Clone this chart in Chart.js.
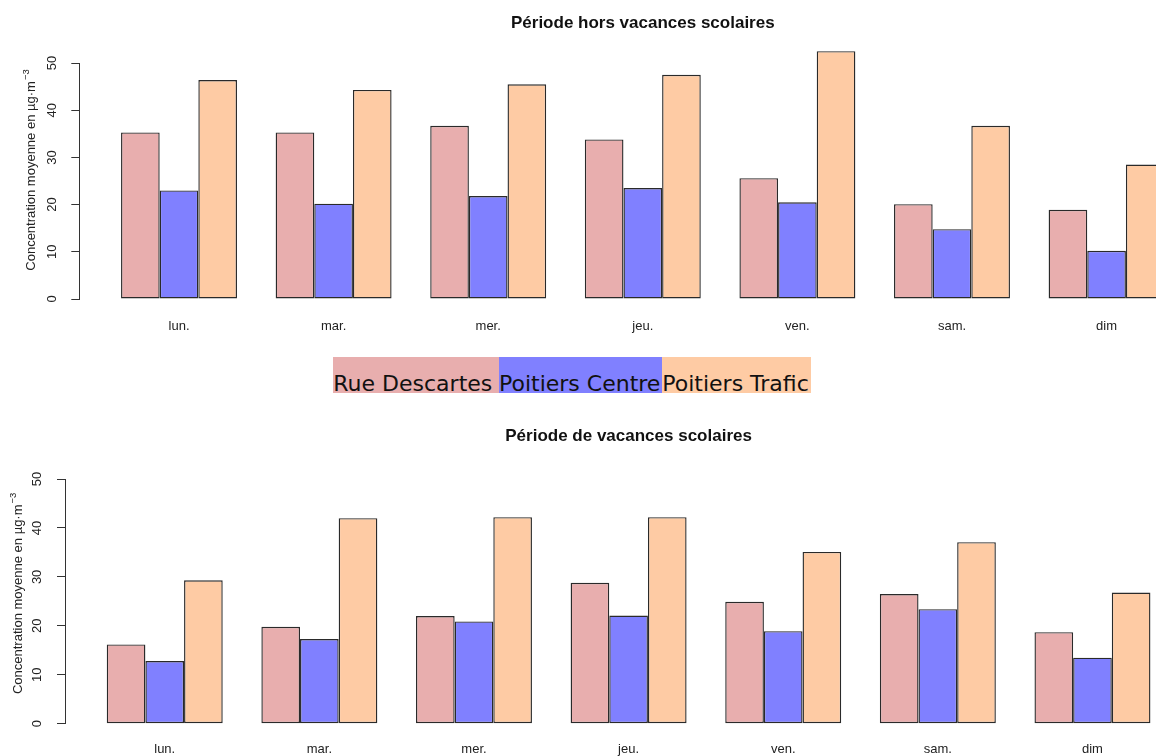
<!DOCTYPE html>
<html lang="fr">
<head>
<meta charset="utf-8">
<title>Concentration moyenne par jour de la semaine</title>
<script src="https://cdn.jsdelivr.net/npm/chart.js@4.4.1/dist/chart.umd.min.js"></script>
<style>
  html, body { margin: 0; padding: 0; background: #fff; overflow: hidden; }
  #page { position: relative; width: 1156px; height: 756px; overflow: hidden; background: #fff; }
  #chartTop { position: absolute; left: 0; top: 0; }
  #chartBottom { position: absolute; left: 0; top: 420px; }
  #legend { position: absolute; left: 333.3px; top: 356.7px; display: flex;
            font-family: "DejaVu Sans", sans-serif; font-size: 22px; color: #111; }
  #legend span { display: block; box-sizing: border-box; height: 36.6px; padding-top: 16.4px;
                 line-height: 22px; white-space: nowrap; overflow: visible; }
  #legend span:nth-child(1) { width: 165.7px; }
  #legend span:nth-child(2) { width: 163.3px; }
  #legend span:nth-child(3) { width: 148.4px; }
</style>
</head>
<body>
<div id="page">
  <canvas id="chartTop" width="1230" height="345"></canvas>
  <div id="legend"></div>
  <canvas id="chartBottom" width="1230" height="336"></canvas>
</div>
<script>
// Days of the week and monitoring sites
const days = ['lun.', 'mar.', 'mer.', 'jeu.', 'ven.', 'sam.', 'dim'];
const seriesNames = ['Rue Descartes', 'Poitiers Centre', 'Poitiers Trafic'];
const seriesColors = ['#E8AEAE', '#8080FF', '#FECBA4'];
const yTickValues = [0, 10, 20, 30, 40, 50];

// Mean concentrations (µg·m-3), outside school holidays
const horsRueDescartes = [35.3, 35.3, 36.7, 33.8, 25.6, 20.1, 18.9];
const horsPoitiersCentre = [23.0, 20.2, 21.8, 23.5, 20.5, 14.8, 10.2];
const horsPoitiersTrafic = [46.4, 44.3, 45.5, 47.5, 52.5, 36.7, 28.5];

// Mean concentrations (µg·m-3), during school holidays
const vacRueDescartes = [16.2, 19.8, 22.0, 28.8, 24.9, 26.5, 18.7];
const vacPoitiersCentre = [12.8, 17.3, 20.9, 22.1, 18.9, 23.4, 13.5];
const vacPoitiersTrafic = [29.3, 42.0, 42.2, 42.2, 35.1, 37.1, 26.8];

const yTitleText = 'Concentration moyenne en µg·m';
const yTitleSup = '−3';

// Rotated y-axis title with a superscript exponent
const yTitlePlugin = {
  id: 'yTitle',
  afterDraw(chart, args, opts) {
    const { ctx, chartArea } = chart;
    const cy = (chartArea.top + chartArea.bottom) / 2 + opts.dy;
    const mainFont = '13px "Liberation Sans", Arial, sans-serif';
    const supFont = '9.5px "Liberation Sans", Arial, sans-serif';
    ctx.save();
    ctx.translate(opts.x, cy);
    ctx.rotate(-Math.PI / 2);
    ctx.fillStyle = '#222';
    ctx.textBaseline = 'middle';
    ctx.textAlign = 'left';
    ctx.font = mainFont;
    const wm = ctx.measureText(opts.text).width;
    ctx.font = supFont;
    const ws = ctx.measureText(opts.sup).width;
    const x0 = -(wm + ws + 1) / 2;
    ctx.font = mainFont;
    ctx.fillText(opts.text, x0, 0);
    ctx.font = supFont;
    ctx.fillText(opts.sup, x0 + wm + 1, -5);
    ctx.restore();
  }
};

const axisFont = { family: '"Liberation Sans", Arial, sans-serif', size: 13 };

function makeChart(canvasId, titleText, seriesValues, lay) {
  return new Chart(document.getElementById(canvasId), {
    type: 'bar',
    data: {
      labels: days.map((d, i) => i),
      datasets: seriesValues.map((vals, k) => ({
        label: seriesNames[k],
        data: vals,
        backgroundColor: seriesColors[k],
        borderColor: '#2a2a2a',
        borderWidth: 1.4,
        borderSkipped: false,
        clip: false,
        categoryPercentage: 0.75,
        barPercentage: 1
      }))
    },
    options: {
      responsive: false,
      animation: false,
      events: [],
      layout: { padding: { left: 0, right: lay.padRight, top: 0, bottom: 0 } },
      plugins: {
        legend: { display: false },
        tooltip: { enabled: false },
        title: {
          display: true,
          text: titleText,
          fullSize: false,
          color: '#111',
          font: { family: '"Liberation Sans", Arial, sans-serif', size: 17, weight: 'bold' },
          padding: { top: lay.titleTop, bottom: lay.titleBottom }
        },
        yTitle: { text: yTitleText, sup: yTitleSup, x: lay.yTitleX, dy: lay.yTitleDy }
      },
      scales: {
        x: {
          type: 'linear',
          offset: false,
          min: -0.645,
          max: 6.645,
          grid: { display: false, drawTicks: false, offset: false },
          border: { display: false },
          afterBuildTicks: s => { s.ticks = days.map((d, i) => ({ value: i })); },
          afterFit: s => { s.height = lay.xHeight; },
          ticks: {
            autoSkip: false, maxRotation: 0, minRotation: 0,
            padding: lay.xPad, color: '#222', font: axisFont,
            callback: v => days[v]
          }
        },
        y: {
          min: 0,
          max: 50,
          afterBuildTicks: s => { s.ticks = yTickValues.map(v => ({ value: v })); },
          afterFit: s => { s.width = lay.yWidth; },
          grid: { drawOnChartArea: false, drawTicks: true, tickLength: 8, color: '#333', tickColor: '#333' },
          border: { display: true, color: '#333', width: 1 },
          ticks: {
            minRotation: 90, maxRotation: 90, crossAlign: 'center',
            padding: 12, color: '#222', font: axisFont
          }
        }
      }
    },
    plugins: [yTitlePlugin]
  });
}

makeChart('chartTop', 'Période hors vacances scolaires',
  [horsRueDescartes, horsPoitiersCentre, horsPoitiersTrafic],
  { padRight: 23.7, yWidth: 79.3, titleTop: 13.1, titleBottom: 29.5, xHeight: 46, xPad: 20,
    yTitleX: 31, yTitleDy: -11 });

makeChart('chartBottom', 'Période de vacances scolaires',
  [vacRueDescartes, vacPoitiersCentre, vacPoitiersTrafic],
  { padRight: 37.8, yWidth: 65, titleTop: 6.1, titleBottom: 32.5, xHeight: 32.3, xPad: 18,
    yTitleX: 18, yTitleDy: -8 });

// Legend: site names on their fill colours
const legend = document.getElementById('legend');
seriesNames.forEach((name, k) => {
  const s = document.createElement('span');
  s.textContent = name;
  s.style.background = seriesColors[k];
  legend.appendChild(s);
});
</script>
</body>
</html>
